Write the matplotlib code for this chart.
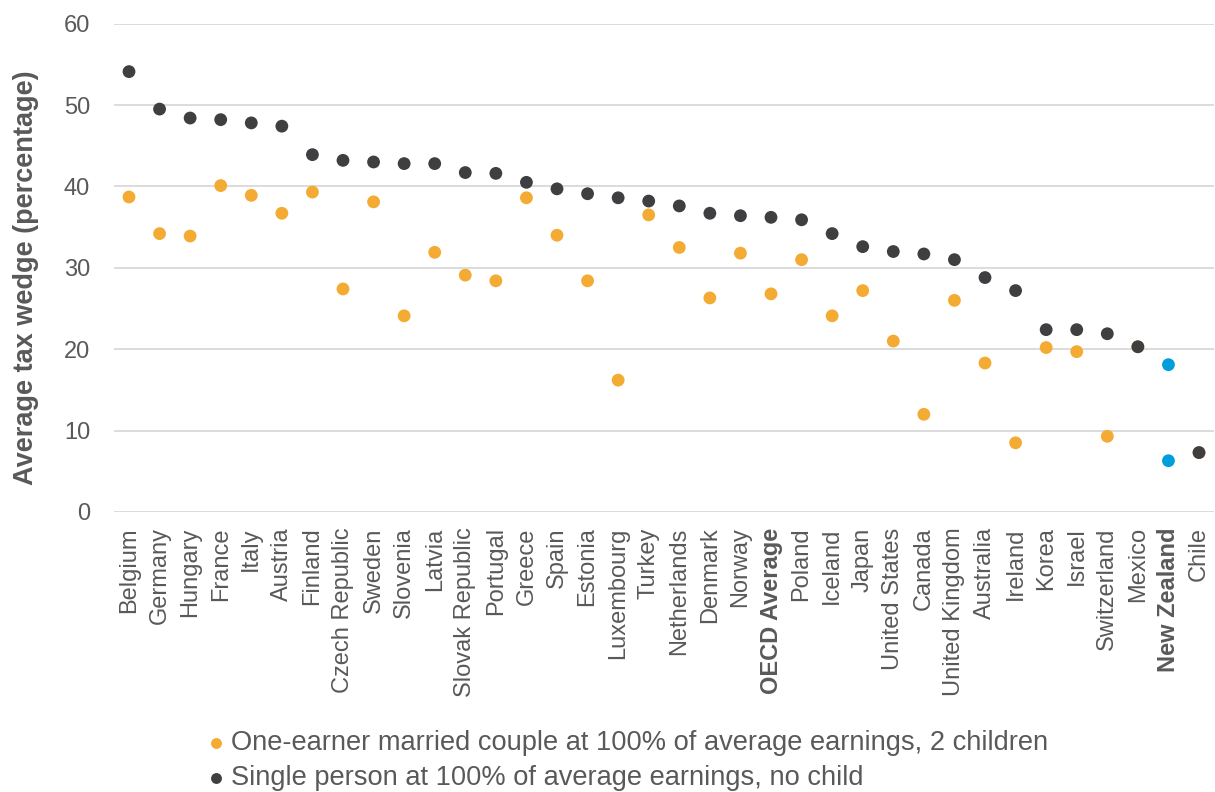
import matplotlib
matplotlib.use("Agg")
import matplotlib.pyplot as plt
import numpy as np

plt.rcParams['font.family'] = ['Liberation Sans', 'DejaVu Sans']

countries = ["Belgium", "Germany", "Hungary", "France", "Italy", "Austria", "Finland",
             "Czech Republic", "Sweden", "Slovenia", "Latvia", "Slovak Republic", "Portugal",
             "Greece", "Spain", "Estonia", "Luxembourg", "Turkey", "Netherlands", "Denmark",
             "Norway", "OECD Average", "Poland", "Iceland", "Japan", "United States", "Canada",
             "United Kingdom", "Australia", "Ireland", "Korea", "Israel", "Switzerland",
             "Mexico", "New Zealand", "Chile"]

single = [54.1, 49.5, 48.4, 48.2, 47.8, 47.4, 43.9, 43.2, 43.0, 42.8, 42.8, 41.7,
          41.6, 40.5, 39.7, 39.1, 38.6, 38.2, 37.6, 36.7, 36.4, 36.2, 35.9, 34.2,
          32.6, 32.0, 31.7, 31.0, 28.8, 27.2, 22.4, 22.4, 21.9, 20.3, 18.1, 7.3]

couple = [38.7, 34.2, 33.9, 40.1, 38.9, 36.7, 39.3, 27.4, 38.1, 24.1, 31.9, 29.1,
          28.4, 38.6, 34.0, 28.4, 16.2, 36.5, 32.5, 26.3, 31.8, 26.8, 31.0, 24.1,
          27.2, 21.0, 12.0, 26.0, 18.3, 8.5, 20.2, 19.7, 9.3, 20.3, 6.3, 7.3]

bold_labels = ["OECD Average", "New Zealand"]
highlight = "New Zealand"

yticks = [0, 10, 20, 30, 40, 50, 60]

label_couple = "One-earner married couple at 100% of average earnings, 2 children"
label_single = "Single person at 100% of average earnings, no child"

ORANGE = "#F4AB33"
DARK = "#3F3F41"
BLUE = "#009FDB"
GRAY = "#595959"
GRID = "#D9D9D9"

W, H = 1215, 792
fig = plt.figure(figsize=(W / 100, H / 100), dpi=100)
ax = fig.add_axes([113.7 / W, 1 - 512 / H, 1100.6 / W, 488.4 / H])

x = np.arange(len(countries))
c_cols = [BLUE if c == highlight else ORANGE for c in countries]
s_cols = [BLUE if c == highlight else DARK for c in countries]

ax.scatter(x, couple, s=85, c=c_cols, linewidths=0, zorder=3, label=label_couple)
ax.scatter(x, single, s=85, c=s_cols, linewidths=0, zorder=4, label=label_single)

ax.set_xlim(-0.5, len(countries) - 0.5)
ax.set_ylim(0, 60)
ax.set_yticks(yticks)
ax.set_xticks(x)
ax.set_xticklabels(countries, rotation=90)
for lab in ax.get_xticklabels():
    if lab.get_text() in bold_labels:
        lab.set_fontweight("bold")

ax.tick_params(axis="both", length=0, labelcolor=GRAY, labelsize=17)
ax.tick_params(axis="x", pad=11)
ax.tick_params(axis="y", pad=17)
ax.grid(axis="y", color=GRID, linewidth=1.3, zorder=0)
ax.set_axisbelow(True)
for sp in ax.spines.values():
    sp.set_visible(False)

fig.text(26 / W, 1 - 278 / H, "Average tax wedge (percentage)", rotation=90,
         ha="center", va="center", fontsize=19.5, fontweight="bold", color=GRAY)

# legend (couple first, single second)
handles, labels = ax.get_legend_handles_labels()
leg = fig.legend(handles, labels, loc="upper left",
                 bbox_to_anchor=(209 / W, 1 - 730 / H), bbox_transform=fig.transFigure,
                 frameon=False, fontsize=19.6, markerscale=0.85, handlelength=0.5,
                 handletextpad=0.3, labelspacing=0.34, borderpad=0, borderaxespad=0)
for t in leg.get_texts():
    t.set_color(GRAY)
leg.legend_handles[0].set_color(ORANGE)
leg.legend_handles[1].set_color(DARK)

fig.savefig("out.png", dpi=100)
